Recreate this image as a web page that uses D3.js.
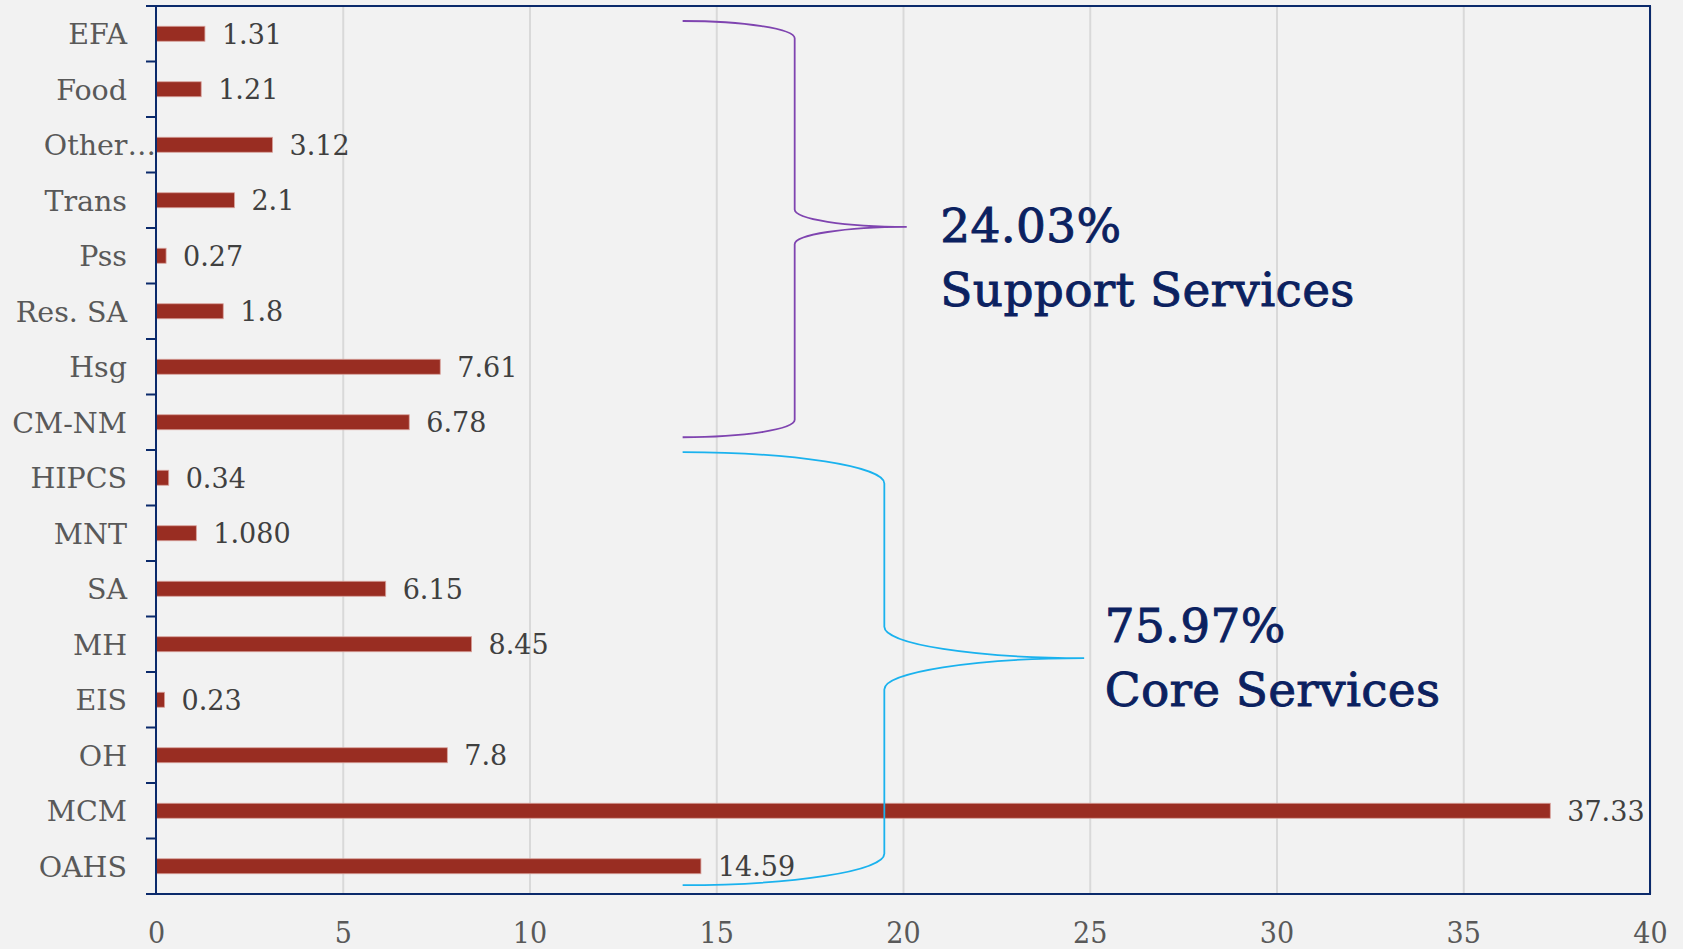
<!DOCTYPE html>
<html>
<head>
<meta charset="utf-8">
<script src="https://cdn.jsdelivr.net/npm/d3@7"></script>
<style>
  html, body { margin: 0; padding: 0; background: #f2f2f2; }
  svg { display: block; }
</style>
</head>
<body>
<svg></svg>
<script>
const categories = ['EFA', 'Food', 'Other…', 'Trans', 'Pss', 'Res. SA', 'Hsg', 'CM-NM',
  'HIPCS', 'MNT', 'SA', 'MH', 'EIS', 'OH', 'MCM', 'OAHS'];
const values = [1.31, 1.21, 3.12, 2.1, 0.27, 1.8, 7.61, 6.78,
  0.34, 1.08, 6.15, 8.45, 0.23, 7.8, 37.33, 14.59];
const valueLabels = ['1.31', '1.21', '3.12', '2.1', '0.27', '1.8', '7.61', '6.78',
  '0.34', '1.080', '6.15', '8.45', '0.23', '7.8', '37.33', '14.59'];
const xTicks = [0, 5, 10, 15, 20, 25, 30, 35, 40];

// brace groups: x in data units, y in row units (0 = top of first row)
const groups = [
  { pct: '24.03%', name: 'Support Services', top: 0.27, bottom: 7.77, tip: 3.98, textRow: 4.25,
    end: 14.1, spine: 17.1, tipX: 20.1, textX: 21.0, color: '#7f44b0' },
  { pct: '75.97%', name: 'Core Services', top: 8.04, bottom: 15.84, tip: 11.75, textRow: 11.46,
    end: 14.1, spine: 19.5, tipX: 24.85, textX: 25.4, color: '#1ab2ee' },
];

const W = 1683;
const H = 949;
const margin = { top: 6, right: 33, bottom: 55, left: 156 };

const svg = d3.select('svg').attr('width', W).attr('height', H);

const x = d3.scaleLinear().domain([0, 40]).range([margin.left, W - margin.right]);
const y = d3.scaleBand().domain(categories).range([margin.top, H - margin.bottom]);
const row = d3.scaleLinear().domain([0, categories.length]).range([margin.top, H - margin.bottom]);
const barH = 15;
const serif = '"DejaVu Serif", serif';
const serifC = '"DejaVu Serif Condensed", "DejaVu Serif", serif';

// grid
svg.append('g')
  .attr('transform', `translate(0,${H - margin.bottom})`)
  .call(d3.axisBottom(x).tickValues(xTicks.slice(1)).tickSize(-(H - margin.bottom - margin.top)).tickFormat(''))
  .call(g => g.select('.domain').remove())
  .call(g => g.selectAll('line').attr('stroke', '#d9d9d9').attr('stroke-width', 2));

// x tick labels
svg.append('g')
  .attr('transform', `translate(0,${H - margin.bottom})`)
  .call(d3.axisBottom(x).tickValues(xTicks).tickSize(0).tickPadding(28))
  .call(g => g.select('.domain').remove())
  .call(g => g.selectAll('text')
    .attr('fill', '#595959')
    .style('font-family', serifC)
    .style('font-size', '30px'));

// bars
svg.append('g')
  .selectAll('rect')
  .data(categories)
  .join('rect')
  .attr('x', x(0))
  .attr('y', d => y(d) + (y.bandwidth() - barH) / 2)
  .attr('width', (d, i) => x(values[i]) - x(0))
  .attr('height', barH)
  .attr('fill', '#992d22')
  .attr('stroke', '#d8a19b')
  .attr('stroke-width', 0.8);

// value labels
svg.append('g')
  .selectAll('text')
  .data(categories)
  .join('text')
  .attr('x', (d, i) => x(values[i]) + 17)
  .attr('y', d => y(d) + y.bandwidth() / 2 + 10)
  .attr('fill', '#404040')
  .style('font-family', serif)
  .style('font-size', '27px')
  .text((d, i) => valueLabels[i]);

// category labels
svg.append('g')
  .attr('transform', `translate(${margin.left},0)`)
  .call(d3.axisLeft(y).tickSize(0).tickPadding(29))
  .call(g => g.select('.domain').remove())
  .call(g => g.selectAll('text')
    .attr('fill', '#595959')
    .attr('dy', '0.36em')
    .attr('dx', d => (d === 'Other…' ? 29 : 0))
    .style('font-family', serif)
    .style('font-size', '28.5px'));

// band boundary ticks + plot frame
const navy = '#0b2a6b';
svg.append('g')
  .selectAll('line')
  .data(d3.range(categories.length + 1))
  .join('line')
  .attr('x1', margin.left - 10)
  .attr('x2', margin.left)
  .attr('y1', d => row(d))
  .attr('y2', d => row(d))
  .attr('stroke', navy)
  .attr('stroke-width', 2);

svg.append('rect')
  .attr('x', margin.left)
  .attr('y', margin.top)
  .attr('width', x(40) - x(0))
  .attr('height', H - margin.bottom - margin.top)
  .attr('fill', 'none')
  .attr('stroke', navy)
  .attr('stroke-width', 2);

// braces
function bracePath(g) {
  const y0 = row(g.top);
  const y1 = row(g.bottom);
  const ty = row(g.tip);
  const xe = x(g.end);
  const xs = x(g.spine);
  const xt = x(g.tipX);
  const c = 0.155 * (xs - xe);
  const dx = xs - xe;
  const p = d3.path();
  p.moveTo(xe, y0);
  p.bezierCurveTo(xe + dx * 0.55, y0, xs, y0 + c * 0.45, xs, y0 + c);
  p.lineTo(xs, ty - c);
  p.bezierCurveTo(xs, ty - c * 0.45, xs + (xt - xs) * 0.45, ty, xt, ty);
  p.bezierCurveTo(xs + (xt - xs) * 0.45, ty, xs, ty + c * 0.45, xs, ty + c);
  p.lineTo(xs, y1 - c);
  p.bezierCurveTo(xs, y1 - c * 0.45, xe + dx * 0.55, y1, xe, y1);
  return p.toString();
}

const ann = svg.append('g');
groups.forEach((g) => {
  ann.append('path')
    .attr('d', bracePath(g))
    .attr('fill', 'none')
    .attr('stroke', g.color)
    .attr('stroke-width', 1.8);
  const t = ann.append('text')
    .attr('y', row(g.textRow))
    .attr('fill', '#0b2160')
    .attr('stroke', '#0b2160')
    .attr('stroke-width', 0.9)
    .style('font-family', serif)
    .style('font-size', '47px')
    .style('letter-spacing', '0.3px');
  t.append('tspan').attr('x', x(g.textX)).text(g.pct);
  t.append('tspan').attr('x', x(g.textX)).attr('dy', 64).text(g.name);
});
</script>
</body>
</html>
